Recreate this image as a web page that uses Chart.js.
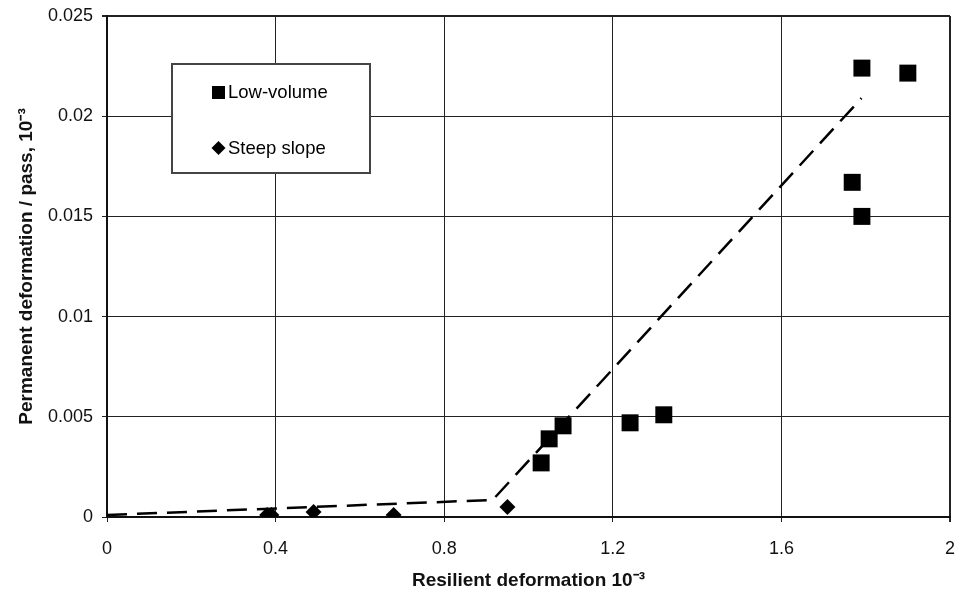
<!DOCTYPE html>
<html><head><meta charset="utf-8">
<script src="https://cdn.jsdelivr.net/npm/chart.js@4/dist/chart.umd.min.js"></script>
<style>html,body{margin:0;padding:0;background:#fff;overflow:hidden}#wrap{width:957px;height:592px;position:relative}canvas{display:block}</style>
</head><body><div id="wrap"><canvas id="c" width="957" height="592"></canvas></div>
<script>
const seriesNames = ["Low-volume", "Steep slope"];
const lowVolumeX = [1.791, 1.900, 1.768, 1.791, 1.030, 1.049, 1.082, 1.241, 1.321];
const lowVolumeY = [0.0224, 0.02215, 0.0167, 0.0150, 0.0027, 0.0039, 0.00455, 0.0047, 0.0051];
const steepX = [0.38, 0.39, 0.49, 0.68, 0.95];
const steepY = [0.0001, 0.0001, 0.00025, 0.0001, 0.0005];
const trendX = [0, 0.915, 1.79];
const trendY = [0.0001, 0.00085, 0.0209];
const xTickLabels = ["0", "0.4", "0.8", "1.2", "1.6", "2"];
const yTickLabels = ["0", "0.005", "0.01", "0.015", "0.02", "0.025"];
const xTitle = "Resilient deformation 10\u207B\u00B3";
const yTitle = "Permanent deformation / pass, 10\u207B\u00B3";

const pts = (xs, ys) => xs.map((x, i) => ({x, y: ys[i]}));
const FONT = "'Liberation Sans', Arial, sans-serif";
const PLOT_RIGHT = 950;

const fixArea = {
  id: 'fixArea',
  afterLayout(chart) {
    const x = chart.scales.x;
    chart.chartArea.right = PLOT_RIGHT;
    chart.chartArea.width = PLOT_RIGHT - chart.chartArea.left;
    x.right = PLOT_RIGHT;
    x.width = PLOT_RIGHT - x.left;
    x.configure();
  }
};

const legendBox = {
  id: 'legendBox',
  afterDraw(chart) {
    const ctx = chart.ctx;
    const x0 = 172, y0 = 64, w = 198, h = 109;
    ctx.save();
    ctx.fillStyle = '#fff';
    ctx.fillRect(x0, y0, w, h);
    ctx.strokeStyle = '#444';
    ctx.lineWidth = 2;
    ctx.strokeRect(x0, y0, w, h);
    ctx.fillStyle = '#000';
    ctx.fillRect(212, 86, 13, 13);
    ctx.beginPath();
    ctx.moveTo(218.5, 141); ctx.lineTo(225.5, 148); ctx.lineTo(218.5, 155); ctx.lineTo(211.5, 148); ctx.closePath(); ctx.fill();
    ctx.font = "18.5px " + FONT;
    ctx.textBaseline = 'middle';
    ctx.textAlign = 'left';
    ctx.fillText(seriesNames[0], 228, 93);
    ctx.fillText(seriesNames[1], 228, 149);
    ctx.restore();
  }
};

new Chart(document.getElementById('c'), {
  type: 'scatter',
  data: {
    datasets: [
      {label: seriesNames[0], data: pts(lowVolumeX, lowVolumeY), pointStyle: 'rect', pointRadius: 12, pointHoverRadius: 12, backgroundColor: '#000', borderColor: '#000', borderWidth: 0},
      {label: seriesNames[1], data: pts(steepX, steepY), pointStyle: 'rectRot', pointRadius: 8, pointHoverRadius: 8, backgroundColor: '#000', borderColor: '#000', borderWidth: 0},
      {label: 'trend', type: 'line', data: pts(trendX, trendY), showLine: true, borderColor: '#000', borderWidth: 2.5, borderDash: [20, 10], pointRadius: 0, fill: false, order: 5}
    ]
  },
  options: {
    animation: false, responsive: false, events: [],
    layout: {padding: {left: 0, right: 7, top: 16, bottom: 0}},
    plugins: {legend: {display: false}, tooltip: {enabled: false}},
    scales: {
      x: {
        type: 'linear', min: 0, max: 2,
        afterBuildTicks(s) { s.ticks = xTickLabels.map(v => ({value: parseFloat(v)})); },
        ticks: {callback: (v, i) => xTickLabels[i], color: '#111', font: {family: FONT, size: 18}, padding: 16, maxRotation: 0},
        grid: {color: '#222', lineWidth: (c) => (c.index === xTickLabels.length - 1 ? 2 : 1), tickLength: 5, tickColor: '#222'},
        border: {color: '#111', width: 2},
        title: {display: true, text: xTitle, color: '#111', font: {family: FONT, size: 19, weight: 'bold'}, padding: {top: 2, bottom: 0}},
        afterFit(s) { s.height = 75; s.paddingRight = 0; s.paddingLeft = 0; }
      },
      y: {
        type: 'linear', min: 0, max: 0.025,
        afterBuildTicks(s) { s.ticks = yTickLabels.map(v => ({value: parseFloat(v)})); },
        ticks: {callback: (v, i) => yTickLabels[i], color: '#111', font: {family: FONT, size: 18}, padding: 9},
        grid: {color: '#222', lineWidth: (c) => (c.index === yTickLabels.length - 1 ? 2 : 1), tickLength: 5, tickColor: '#222'},
        border: {color: '#111', width: 2},
        title: {display: true, text: yTitle, color: '#111', font: {family: FONT, size: 19, weight: 'bold'}, padding: {top: 15, bottom: 0}},
        afterFit(s) { s.width = 107; s.paddingTop = 0; s.paddingBottom = 0; }
      }
    }
  },
  plugins: [fixArea, legendBox]
});
</script></body></html>
